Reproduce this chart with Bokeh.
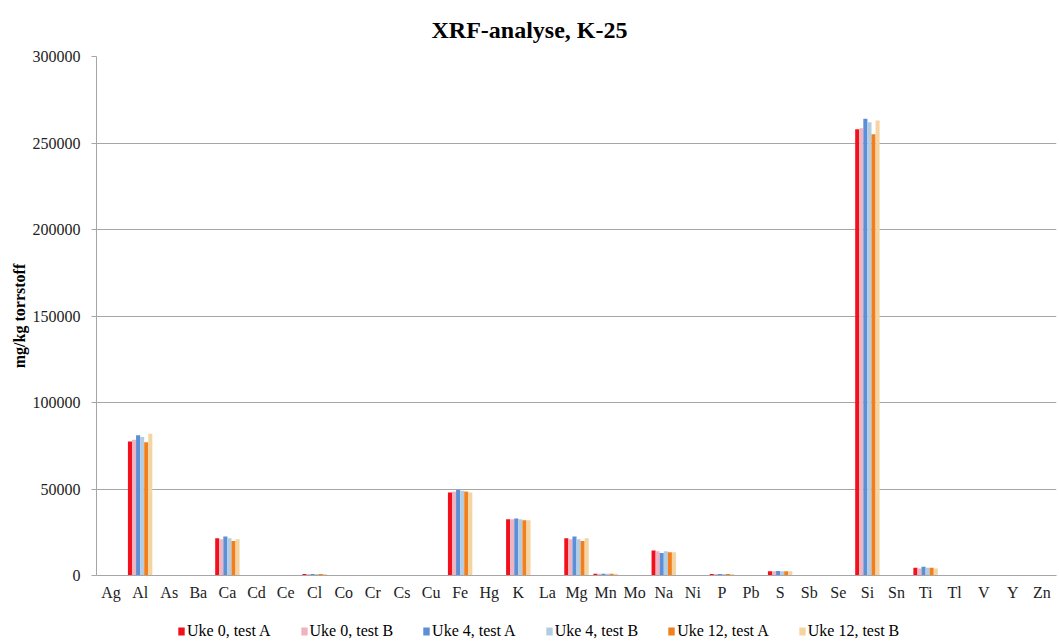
from bokeh.plotting import figure
from bokeh.models import ColumnDataSource, Legend, LegendItem, Title, FactorRange
from bokeh.layouts import column
from bokeh.transform import dodge
from bokeh.embed import file_html
from bokeh.resources import INLINE

elements = ["Ag", "Al", "As", "Ba", "Ca", "Cd", "Ce", "Cl", "Co", "Cr", "Cs", "Cu", "Fe", "Hg", "K",
            "La", "Mg", "Mn", "Mo", "Na", "Ni", "P", "Pb", "S", "Sb", "Se", "Si", "Sn", "Ti", "Tl",
            "V", "Y", "Zn"]

uke0_a = [0, 77500, 200, 100, 21500, 100, 300, 800, 100, 300, 200, 200, 48000, 0, 32500,
          300, 21500, 1000, 200, 14500, 200, 800, 200, 2500, 100, 100, 258000, 300, 4500, 200,
          300, 200, 300]
uke0_b = [0, 78500, 200, 100, 21000, 100, 300, 800, 100, 300, 200, 200, 48500, 0, 32500,
          300, 21000, 1000, 200, 14000, 200, 800, 200, 2400, 100, 100, 258500, 300, 4000, 200,
          300, 200, 300]
uke4_a = [0, 81000, 200, 100, 22500, 100, 300, 900, 100, 300, 200, 200, 49500, 0, 33000,
          300, 22500, 1000, 200, 13000, 200, 800, 200, 2600, 100, 100, 264000, 300, 5000, 200,
          300, 200, 300]
uke4_b = [0, 80000, 200, 100, 21500, 100, 300, 800, 100, 300, 200, 200, 49000, 0, 32500,
          300, 21000, 1000, 200, 14000, 200, 800, 200, 2500, 100, 100, 262000, 300, 4500, 200,
          300, 200, 300]
uke12_a = [0, 77000, 200, 100, 20000, 100, 300, 800, 100, 300, 200, 200, 48500, 0, 32000,
           300, 20000, 1000, 200, 13500, 200, 800, 200, 2500, 100, 100, 255000, 300, 4500, 200,
           300, 200, 300]
uke12_b = [0, 82000, 200, 100, 21000, 100, 300, 800, 100, 300, 200, 200, 48000, 0, 32000,
           300, 21500, 1000, 200, 13500, 200, 800, 200, 2400, 100, 100, 263000, 300, 4000, 200,
           300, 200, 300]

series_names = ["Uke 0, test A", "Uke 0, test B", "Uke 4, test A", "Uke 4, test B",
                "Uke 12, test A", "Uke 12, test B"]
series_values = [uke0_a, uke0_b, uke4_a, uke4_b, uke12_a, uke12_b]
colors = ["#f2101c", "#efb4c0", "#5b8fd8", "#b4cce2", "#f07f1c", "#f6d4a2"]

FONT = "Liberation Serif"

src = ColumnDataSource(dict(el=elements, s0=uke0_a, s1=uke0_b, s2=uke4_a, s3=uke4_b,
                            s4=uke12_a, s5=uke12_b))

p = figure(x_range=FactorRange(*elements, range_padding=0), y_range=(0, 300000),
           width=1059, height=605, output_backend="svg", toolbar_location=None,
           min_border_left=96, min_border_right=3, min_border_top=55, min_border_bottom=30)

p.title = None
t = Title(text="XRF-analyse, K-25", align="left", offset=335, standoff=28,
          text_font=FONT, text_font_size="24px", text_font_style="bold", text_color="#000000")
p.add_layout(t, "above")

w = 0.14
offs = [-0.35, -0.21, -0.07, 0.07, 0.21, 0.35]
for i, col in enumerate(colors):
    p.vbar(x=dodge("el", offs[i], range=p.x_range), top="s%d" % i, width=w, source=src,
           fill_color=col, line_color=None)

p.xgrid.grid_line_color = None
p.ygrid.grid_line_color = "#a6a6a6"
p.ygrid.grid_line_width = 1
p.outline_line_color = None

p.yaxis.axis_label = "mg/kg torrstoff"
p.yaxis.axis_label_text_font = FONT
p.yaxis.axis_label_text_font_style = "bold"
p.yaxis.axis_label_text_font_size = "16px"
p.yaxis.axis_label_text_color = "#000000"
p.yaxis.axis_label_standoff = 2
p.yaxis.major_label_text_font = FONT
p.yaxis.major_label_text_font_size = "16px"
p.yaxis.major_label_text_color = "#222222"
p.yaxis.axis_line_color = "#a6a6a6"
p.yaxis.major_tick_line_color = "#a6a6a6"
p.yaxis.major_tick_in = 0
p.yaxis.major_tick_out = 5
p.yaxis.major_label_standoff = 11
p.yaxis.minor_tick_line_color = None
p.yaxis.ticker = [0, 50000, 100000, 150000, 200000, 250000, 300000]
p.yaxis.formatter.use_scientific = False

p.xaxis.major_label_text_font = FONT
p.xaxis.major_label_text_font_size = "16px"
p.xaxis.major_label_text_color = "#222222"
p.xaxis.axis_line_color = "#a6a6a6"
p.xaxis.major_tick_line_color = None
p.xaxis.major_tick_out = 0
p.xaxis.major_label_standoff = 8

# legend strip below the chart (its frame is aligned with the chart's frame)
lf = figure(width=1059, height=37, x_range=(0, 1), y_range=(0, 1), output_backend="svg",
            toolbar_location=None, x_axis_type=None, y_axis_type=None,
            min_border_left=0, min_border_right=0, min_border_top=0, min_border_bottom=0)
lf.outline_line_color = None
lf.xgrid.grid_line_color = None
lf.ygrid.grid_line_color = None
items = []
for name, col in zip(series_names, colors):
    r = lf.vbar(x=[-5], top=[0], width=0.1, fill_color=col, line_color=None)
    items.append(LegendItem(label=name, renderers=[r]))

legend = Legend(items=items, orientation="horizontal", location=(81, 2),
                label_text_font=FONT, label_text_font_size="16px", label_text_color="#000000",
                glyph_width=8, glyph_height=10, label_standoff=2, spacing=29, padding=0,
                margin=0, label_height=16, border_line_color=None, background_fill_alpha=0)
lf.add_layout(legend)

layout = column(p, lf, spacing=0)
open("out.html", "w").write(file_html(layout, INLINE))
